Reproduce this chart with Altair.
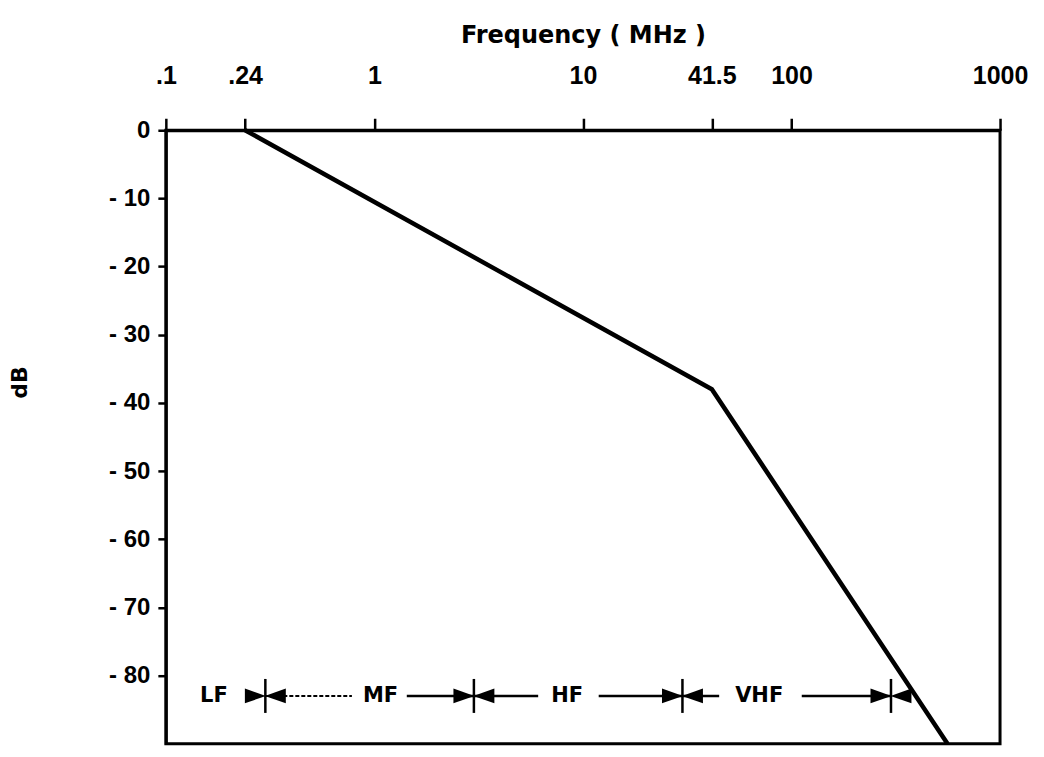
import altair as alt
import pandas as pd

# main curve
freq = [0.24, 41.5, 560]
db = [0, -38, -90]

# axes
x_ticks = [0.1, 0.24, 1, 10, 41.5, 100, 1000]
x_tick_labels = [".1", ".24", "1", "10", "41.5", "100", "1000"]
y_ticks = [0, -10, -20, -30, -40, -50, -60, -70, -80]

# band annotation row
band_names = ["LF", "MF", "HF", "VHF"]
band_label_freq = [0.17, 1.07, 8.4, 70]
band_row_db = -83
band_edges = [0.3, 3, 30, 300]
seg_start = [0.3, 1.43, 3, 11.9, 30, 112]
seg_end = [0.78, 3, 6.1, 30, 45, 300]
seg_dashed = [True, False, False, False, False, False]

curve_df = pd.DataFrame({"freq": freq, "db": db})
edge_df = pd.DataFrame({"freq": band_edges, "db": [band_row_db] * len(band_edges)})
label_df = pd.DataFrame({"freq": band_label_freq, "db": [band_row_db] * len(band_names), "name": band_names})
seg_df = pd.DataFrame({"s": seg_start, "e": seg_end, "db": [band_row_db] * len(seg_start), "dashed": seg_dashed})

x_label_expr = " : ".join(f"datum.value == {v} ? '{l}'" for v, l in zip(x_ticks, x_tick_labels)) + " : ''"

xscale = alt.Scale(type="log", domain=[0.1, 1000])
yscale = alt.Scale(domain=[-90, 0], nice=False, zero=False)

x_axis = alt.Axis(
    orient="top", values=x_ticks, labelExpr=x_label_expr, title="Frequency ( MHz )",
    grid=False, domainColor="black", domainWidth=3, tickColor="black", tickWidth=2.5, tickSize=12,
    labelFont="Liberation Sans", labelFontSize=25, labelFontWeight="bold", labelColor="black",
    labelPadding=30, labelFlush=False, labelOverlap=False, labelBound=False,
    titleFont="DejaVu Sans", titleFontSize=24, titleFontWeight="bold", titleColor="black", titlePadding=16,
)
y_axis = alt.Axis(
    orient="left", values=y_ticks,
    labelExpr="datum.value == 0 ? '0' : '- ' + abs(datum.value)",
    title="dB", grid=False, domainColor="black", domainWidth=3, tickColor="black", tickWidth=2.5, tickSize=8,
    labelFont="Liberation Sans", labelFontSize=24, labelFontWeight="bold", labelColor="black",
    labelPadding=8, labelOverlap=False, labelBound=False,
    titleFont="DejaVu Sans", titleFontSize=22, titleFontWeight="bold", titleColor="black",
    titleX=-146, titleY=252, titleAlign="center", titleBaseline="middle",
)

line = alt.Chart(curve_df).mark_line(color="black", strokeWidth=4.5).encode(
    x=alt.X("freq:Q", scale=xscale, axis=x_axis),
    y=alt.Y("db:Q", scale=yscale, axis=y_axis),
)

rules_solid = alt.Chart(seg_df).transform_filter("!datum.dashed").mark_rule(color="black", strokeWidth=2.5).encode(
    x=alt.X("s:Q", scale=xscale), x2="e:Q", y=alt.Y("db:Q", scale=yscale))
rules_dash = alt.Chart(seg_df).transform_filter("datum.dashed").mark_rule(color="black", strokeWidth=2, strokeDash=[4, 2]).encode(
    x=alt.X("s:Q", scale=xscale), x2="e:Q", y=alt.Y("db:Q", scale=yscale))

ticks = alt.Chart(edge_df).mark_tick(color="black", thickness=2.5, size=34, orient="vertical", opacity=1).encode(
    x=alt.X("freq:Q", scale=xscale), y=alt.Y("db:Q", scale=yscale))
arr_l = alt.Chart(edge_df).mark_point(shape="M -1 -0.7 L 1 0 L -1 0.7 Z", filled=True, size=440, xOffset=-10,
                                      color="black", opacity=1).encode(
    x=alt.X("freq:Q", scale=xscale), y=alt.Y("db:Q", scale=yscale))
arr_r = alt.Chart(edge_df).mark_point(shape="M 1 -0.7 L -1 0 L 1 0.7 Z", filled=True, size=440, xOffset=10,
                                      color="black", opacity=1).encode(
    x=alt.X("freq:Q", scale=xscale), y=alt.Y("db:Q", scale=yscale))

labels = alt.Chart(label_df).mark_text(font="DejaVu Sans", fontSize=21, fontWeight="bold", color="black").encode(
    x=alt.X("freq:Q", scale=xscale), y=alt.Y("db:Q", scale=yscale), text="name:N")

chart = alt.layer(line, rules_solid, rules_dash, ticks, arr_l, arr_r, labels).properties(
    width=835, height=614, autosize="none", background="white",
    padding={"left": 158, "top": 122, "right": 36, "bottom": 3},
).configure_view(stroke="black", strokeWidth=3)

chart.save("out.html", embed_options={"renderer": "svg", "actions": False})
